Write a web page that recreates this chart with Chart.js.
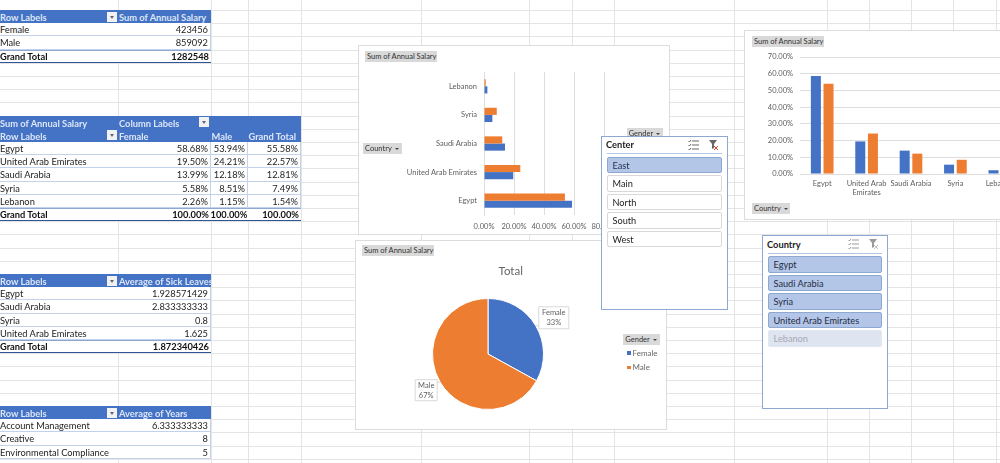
<!DOCTYPE html>
<html>
<head>
<meta charset="utf-8">
<title>Pivot dashboard</title>
<script src="https://cdn.jsdelivr.net/npm/chart.js@4"></script>
<style>
  html, body { margin: 0; padding: 0; background: #fff; }
  #sheet { position: relative; width: 1000px; height: 463px; overflow: hidden; font-family: Lato, sans-serif; font-size: 9.3px; color: #222; filter: blur(0.4px); }
  .abs { position: absolute; box-sizing: border-box; white-space: nowrap; }
  .gl { position: absolute; background: #e4e4e4; }
  .cell { position: absolute; box-sizing: border-box; height: 13.2px; line-height: 14.8px; padding: 0 2px 0 0; overflow: hidden; white-space: nowrap; border-bottom: 1px solid #c3d1ea; background: #fff; }
  .cell.head { background: #4472c4; color: #dce6f7; font-weight: bold; border-bottom: 0; line-height: 15px; }
  .cell.total { font-weight: bold; color: #111; border-top: 1px solid #8ea9d1; border-bottom: 1.5px solid #2f5597; line-height: 12.6px; }
  .cell.num { text-align: right; }
  .cell.vl { border-right: 1px solid #c3d1ea; }
  .fbtn { position: absolute; width: 10px; height: 10px; background: #f2f2f2; }
  .fbtn:after { content: ""; position: absolute; left: 2.5px; top: 4px; border: 2.5px solid transparent; border-top: 3px solid #667; }
  .frame { position: absolute; background: #fff; border: 1px solid #dcdcdc; box-sizing: border-box; }
  canvas { position: absolute; }
  .field { position: absolute; background: #d9d9d9; color: #333; font-size: 7.5px; height: 11px; line-height: 11px; padding: 0 2px; box-sizing: border-box; white-space: nowrap; }
  .field.drop:after { content: ""; display: inline-block; margin-left: 3px; border: 2px solid transparent; border-top: 2.5px solid #444; vertical-align: -1px; }
  .slicer { position: absolute; background: #fff; border: 1px solid #8ea9d1; box-sizing: border-box; }
  .slicer .sep { position: absolute; height: 1px; background: #b4c6e7; }
  .slicer .ttl { position: absolute; font-weight: bold; font-size: 9.3px; color: #222; }
  .slicer .item { position: absolute; height: 16.5px; line-height: 15px; padding-left: 5px; box-sizing: border-box; border-radius: 2px; font-size: 9.2px; border: 1px solid #d9d9d9; background: #fff; color: #222; }
  .slicer .item.on { background: #b4c6e7; border-color: #8ea9d1; color: #1f2d45; }
  .slicer .item.off { background: #dfe4f1; border-color: #e3e7f2; color: #a5a9b3; }
  .legend-swatch { position: absolute; width: 3.5px; height: 3.5px; }
  .legend-text { position: absolute; font-size: 8px; color: #666; }
</style>
</head>
<body>
<div id="sheet"></div>
<script>
// sheet grid
var gridCols = [118, 210.5, 247.5, 300.5, 420.5, 529, 571.5, 613.5, 734, 826.5, 868.5, 911, 953, 996];
var rowStep = 13.2, rowStart = 10;

// pivot values
var genders = ['Female', 'Male'];
var salaryByGender = [423456, 859092];
var salaryTotal = 1282548;

var countries = ['Egypt', 'United Arab Emirates', 'Saudi Arabia', 'Syria', 'Lebanon'];
var femaleShare = [58.68, 19.50, 13.99, 5.58, 2.26];
var maleShare = [53.94, 24.21, 12.18, 8.51, 1.15];
var totalShare = [55.58, 22.57, 12.81, 7.49, 1.54];

var sickCountries = ['Egypt', 'Saudi Arabia', 'Syria', 'United Arab Emirates'];
var sickLeaves = ['1.928571429', '2.833333333', '0.8', '1.625'];
var sickTotal = '1.872340426';

var departments = ['Account Management', 'Creative', 'Environmental Compliance'];
var avgYears = ['6.333333333', '8', '5'];

var centers = ['East', 'Main', 'North', 'South', 'West'];
var slicerCountries = ['Egypt', 'Saudi Arabia', 'Syria', 'United Arab Emirates', 'Lebanon'];

var blue = '#4472c4', orange = '#ed7d31', gridGrey = '#dedede', tickGrey = '#606060';
var chartFont = { family: 'Lato', size: 7.5 };

var sheet = document.getElementById('sheet');

function el(cls, x, y, w, h, text) {
  var d = document.createElement('div');
  d.className = cls;
  d.style.left = x + 'px';
  d.style.top = y + 'px';
  if (w != null) d.style.width = w + 'px';
  if (h != null) d.style.height = h + 'px';
  if (text != null) d.textContent = text;
  sheet.appendChild(d);
  return d;
}

gridCols.forEach(function(x){ el('gl', x, 0, 1, 463); });
for (var r = 0; r * rowStep + rowStart < 463; r++) el('gl', 0, rowStart + r * rowStep, 1000, 1);

function rowY(n){ return rowStart + n * rowStep; }

// one row of a pivot table; cols is the list of column edges
function pivotRow(row, cols, texts, kind) {
  texts.forEach(function(t, i){
    var cls = 'cell' + (i > 0 ? ' num' : '') + (kind ? ' ' + kind : '') + (kind ? '' : ' vl');
    var c = el(cls, cols[i], rowY(row), cols[i + 1] - cols[i] + 0.5, null, t);
    if (kind == 'head' && i > 0) { c.classList.remove('num'); c.style.paddingLeft = '1px'; }
  });
}
function filterBtn(x, row){ el('fbtn', x, rowY(row) + 1.6); }

var cols2 = [0, 118, 210.5];
var cols4 = [0, 118, 210.5, 247.5, 300.5];
function pct(v){ return v.toFixed(2) + '%'; }

// table 1
pivotRow(0, cols2, ['Row Labels', 'Sum of Annual Salary'], 'head');
filterBtn(107, 0);
genders.forEach(function(g, i){ pivotRow(1 + i, cols2, [g, String(salaryByGender[i])]); });
pivotRow(3, cols2, ['Grand Total', String(salaryTotal)], 'total');

// table 2
pivotRow(8, cols4, ['Sum of Annual Salary', 'Column Labels', '', ''], 'head');
filterBtn(199, 8);
pivotRow(9, cols4, ['Row Labels', 'Female', 'Male', 'Grand Total'], 'head');
filterBtn(107, 9);
countries.forEach(function(c, i){
  pivotRow(10 + i, cols4, [c, pct(femaleShare[i]), pct(maleShare[i]), pct(totalShare[i])]);
});
pivotRow(15, cols4, ['Grand Total', '100.00%', '100.00%', '100.00%'], 'total');

// table 3
pivotRow(20, cols2, ['Row Labels', 'Average of Sick Leaves'], 'head');
filterBtn(107, 20);
sickCountries.forEach(function(c, i){ pivotRow(21 + i, cols2, [c, sickLeaves[i]]); });
pivotRow(25, cols2, ['Grand Total', sickTotal], 'total');

// table 4
pivotRow(30, cols2, ['Row Labels', 'Average of Years'], 'head');
filterBtn(107, 30);
departments.forEach(function(c, i){ pivotRow(31 + i, cols2, [c, avgYears[i]]); });

// chart frames
function addCanvas(x, y, w, h) {
  var c = document.createElement('canvas');
  c.style.left = x + 'px';
  c.style.top = y + 'px';
  c.style.width = w + 'px';
  c.style.height = h + 'px';
  c.width = w; c.height = h;
  sheet.appendChild(c);
  return c.getContext('2d');
}
function pctTick(v){ return Number(v).toFixed(2) + '%'; }

// horizontal bars
el('frame', 358, 45, 312, 190);
var hbarCats = countries.slice().reverse();
new Chart(addCanvas(358, 45, 312, 190), {
  type: 'bar',
  data: {
    labels: hbarCats,
    datasets: [
      { label: 'Male', data: maleShare.slice().reverse(), backgroundColor: orange, barPercentage: 1, categoryPercentage: 0.5 },
      { label: 'Female', data: femaleShare.slice().reverse(), backgroundColor: blue, barPercentage: 1, categoryPercentage: 0.5 }
    ]
  },
  options: {
    indexAxis: 'y', responsive: false, animation: false,
    layout: { padding: { top: 27, right: 66, bottom: 0, left: 0 } },
    plugins: { legend: { display: false }, tooltip: { enabled: false } },
    scales: {
      x: { min: 0, max: 80, afterFit: function(s){ s.height = 20; }, ticks: { stepSize: 20, callback: pctTick, color: tickGrey, font: chartFont, padding: 7, maxRotation: 0 }, grid: { color: gridGrey, drawTicks: false }, border: { display: false } },
      y: { afterFit: function(s){ s.width = 126; }, ticks: { color: tickGrey, font: chartFont, padding: 7, autoSkip: false }, grid: { display: false, drawTicks: false }, border: { color: gridGrey } }
    }
  }
});
el('field', 365, 51, 72, null, 'Sum of Annual Salary');
el('field drop', 363, 143, 38.5, null, 'Country');
el('field drop', 626.7, 128, 36.5, null, 'Gender');

// columns
el('frame', 744, 30, 290, 190);
var columnCats = countries.map(function(c){ return c == 'United Arab Emirates' ? ['United Arab', 'Emirates'] : c; });
new Chart(addCanvas(744, 30, 278, 190), {
  type: 'bar',
  data: {
    labels: columnCats,
    datasets: [
      { label: 'Female', data: femaleShare, backgroundColor: blue, barPercentage: 0.79, categoryPercentage: 0.57 },
      { label: 'Male', data: maleShare, backgroundColor: orange, barPercentage: 0.79, categoryPercentage: 0.57 }
    ]
  },
  options: {
    responsive: false, animation: false,
    layout: { padding: { top: 27, right: 0, bottom: 0, left: 0 } },
    plugins: { legend: { display: false }, tooltip: { enabled: false } },
    scales: {
      x: { afterFit: function(s){ s.height = 46; }, ticks: { color: tickGrey, font: chartFont, padding: 5, maxRotation: 0, autoSkip: false }, grid: { display: false, drawTicks: false }, border: { color: gridGrey } },
      y: { min: 0, max: 70, afterFit: function(s){ s.width = 56; }, ticks: { stepSize: 10, callback: pctTick, color: tickGrey, font: chartFont, padding: 7 }, grid: { color: gridGrey, drawTicks: false }, border: { display: false } }
    }
  }
});
el('field', 752, 35.7, 72, null, 'Sum of Annual Salary');
el('field drop', 752, 203, 38, null, 'Country');

// pie
el('frame', 355, 240, 312, 190);
var calloutPlugin = {
  id: 'callouts',
  afterDatasetsDraw: function(chart, args, opts) {
    var ctx = chart.ctx, arcs = chart.getDatasetMeta(0).data;
    var data = chart.data.datasets[0].data;
    var sum = data.reduce(function(a, b){ return a + b; }, 0);
    arcs.forEach(function(a, i) {
      var p = a.getProps(['x', 'y', 'startAngle', 'endAngle', 'outerRadius']);
      var mid = (p.startAngle + p.endAngle) / 2;
      var rx = p.x + Math.cos(mid) * p.outerRadius, ry = p.y + Math.sin(mid) * p.outerRadius;
      var cx = rx + opts.offsets[i][0], cy = ry + opts.offsets[i][1];
      var w = opts.sizes[i][0], h = opts.sizes[i][1];
      // leader from the box to the slice edge
      var ex = Math.max(cx - w / 2, Math.min(rx, cx + w / 2));
      var ey = Math.max(cy - h / 2, Math.min(ry, cy + h / 2));
      ctx.save();
      ctx.strokeStyle = '#d9d9d9';
      ctx.lineWidth = 1;
      ctx.beginPath();
      ctx.moveTo(ex, ey);
      ctx.lineTo(rx, ry);
      ctx.stroke();
      ctx.fillStyle = '#fff';
      ctx.beginPath();
      ctx.rect(cx - w / 2, cy - h / 2, w, h);
      ctx.fill();
      ctx.stroke();
      ctx.font = '7.5px Lato';
      ctx.fillStyle = tickGrey;
      ctx.textAlign = 'center';
      ctx.textBaseline = 'middle';
      ctx.fillText(chart.data.labels[i], cx, cy - 5);
      ctx.fillText(Math.round(data[i] / sum * 100) + '%', cx, cy + 5);
      ctx.restore();
    });
  }
};
new Chart(addCanvas(355, 240, 312, 190), {
  type: 'pie',
  data: {
    labels: genders,
    datasets: [{ data: salaryByGender, backgroundColor: [blue, orange], borderColor: '#fff', borderWidth: 1 }]
  },
  options: {
    responsive: false, animation: false,
    layout: { padding: { top: 58, right: 123, bottom: 20, left: 77 } },
    plugins: {
      legend: { display: false }, tooltip: { enabled: false }, title: { display: false },
      callouts: { offsets: [[18, -8], [-14, 8]], sizes: [[30, 22], [22, 21]] }
    }
  },
  plugins: [calloutPlugin]
});
var ttl = el('abs', 498.5, 264, null, null, 'Total');
ttl.style.fontSize = '11.5px'; ttl.style.color = '#666';
el('field', 362, 245, 72, null, 'Sum of Annual Salary');
el('field drop', 623.3, 334, 37, null, 'Gender');
genders.forEach(function(g, i){
  var y = 353 + i * 14.5;
  el('legend-swatch', 627, y - 2).style.background = [blue, orange][i];
  el('legend-text', 632.5, y - 5.5, null, null, g);
});

// slicers
function iconSvg(x, y, faded) {
  var col = faded ? '#9a9a9a' : '#666';
  var s = document.createElementNS('http://www.w3.org/2000/svg', 'svg');
  s.setAttribute('width', '40'); s.setAttribute('height', '12');
  s.style.position = 'absolute'; s.style.left = x + 'px'; s.style.top = y + 'px';
  s.innerHTML = '<g stroke="' + col + '" stroke-width="1" fill="none">' +
    '<path d="M4 2h7M4 6h7M4 10h7M0.5 2l1 1 1.5-2M0.5 6l1 1 1.5-2M0.5 10l1 1 1.5-2"/></g>' +
    '<path d="M21 1h8l-3 4v4l-2 1v-5z" fill="' + col + '"/>' +
    '<path d="M26 7l4 4M30 7l-4 4" stroke="' + (faded ? '#c4c4c4' : '#d9482b') + '" stroke-width="1"/>';
  sheet.appendChild(s);
}
function slicer(x, y, w, h, title, items, states, faded) {
  var box = document.createElement('div');
  box.className = 'slicer';
  box.style.cssText = 'left:' + x + 'px;top:' + y + 'px;width:' + w + 'px;height:' + h + 'px';
  sheet.appendChild(box);
  var t = document.createElement('div');
  t.className = 'ttl'; t.textContent = title;
  t.style.left = '4.5px'; t.style.top = '2.5px';
  box.appendChild(t);
  var sep = document.createElement('div');
  sep.className = 'sep';
  sep.style.cssText = 'left:5px;right:5px;top:16.5px';
  box.appendChild(sep);
  items.forEach(function(name, i){
    var d = document.createElement('div');
    d.className = 'item ' + states[i];
    d.textContent = name;
    d.style.cssText = 'left:5px;right:5px;top:' + (20 + i * 18.5) + 'px';
    box.appendChild(d);
  });
  iconSvg(x + w - 40, y + 3, faded);
}
slicer(600.5, 135.5, 127, 174, 'Center', centers, ['on', '', '', '', ''], false);
slicer(761.5, 235, 126, 174, 'Country', slicerCountries, ['on', 'on', 'on', 'on', 'off'], true);
</script>
</body>
</html>
